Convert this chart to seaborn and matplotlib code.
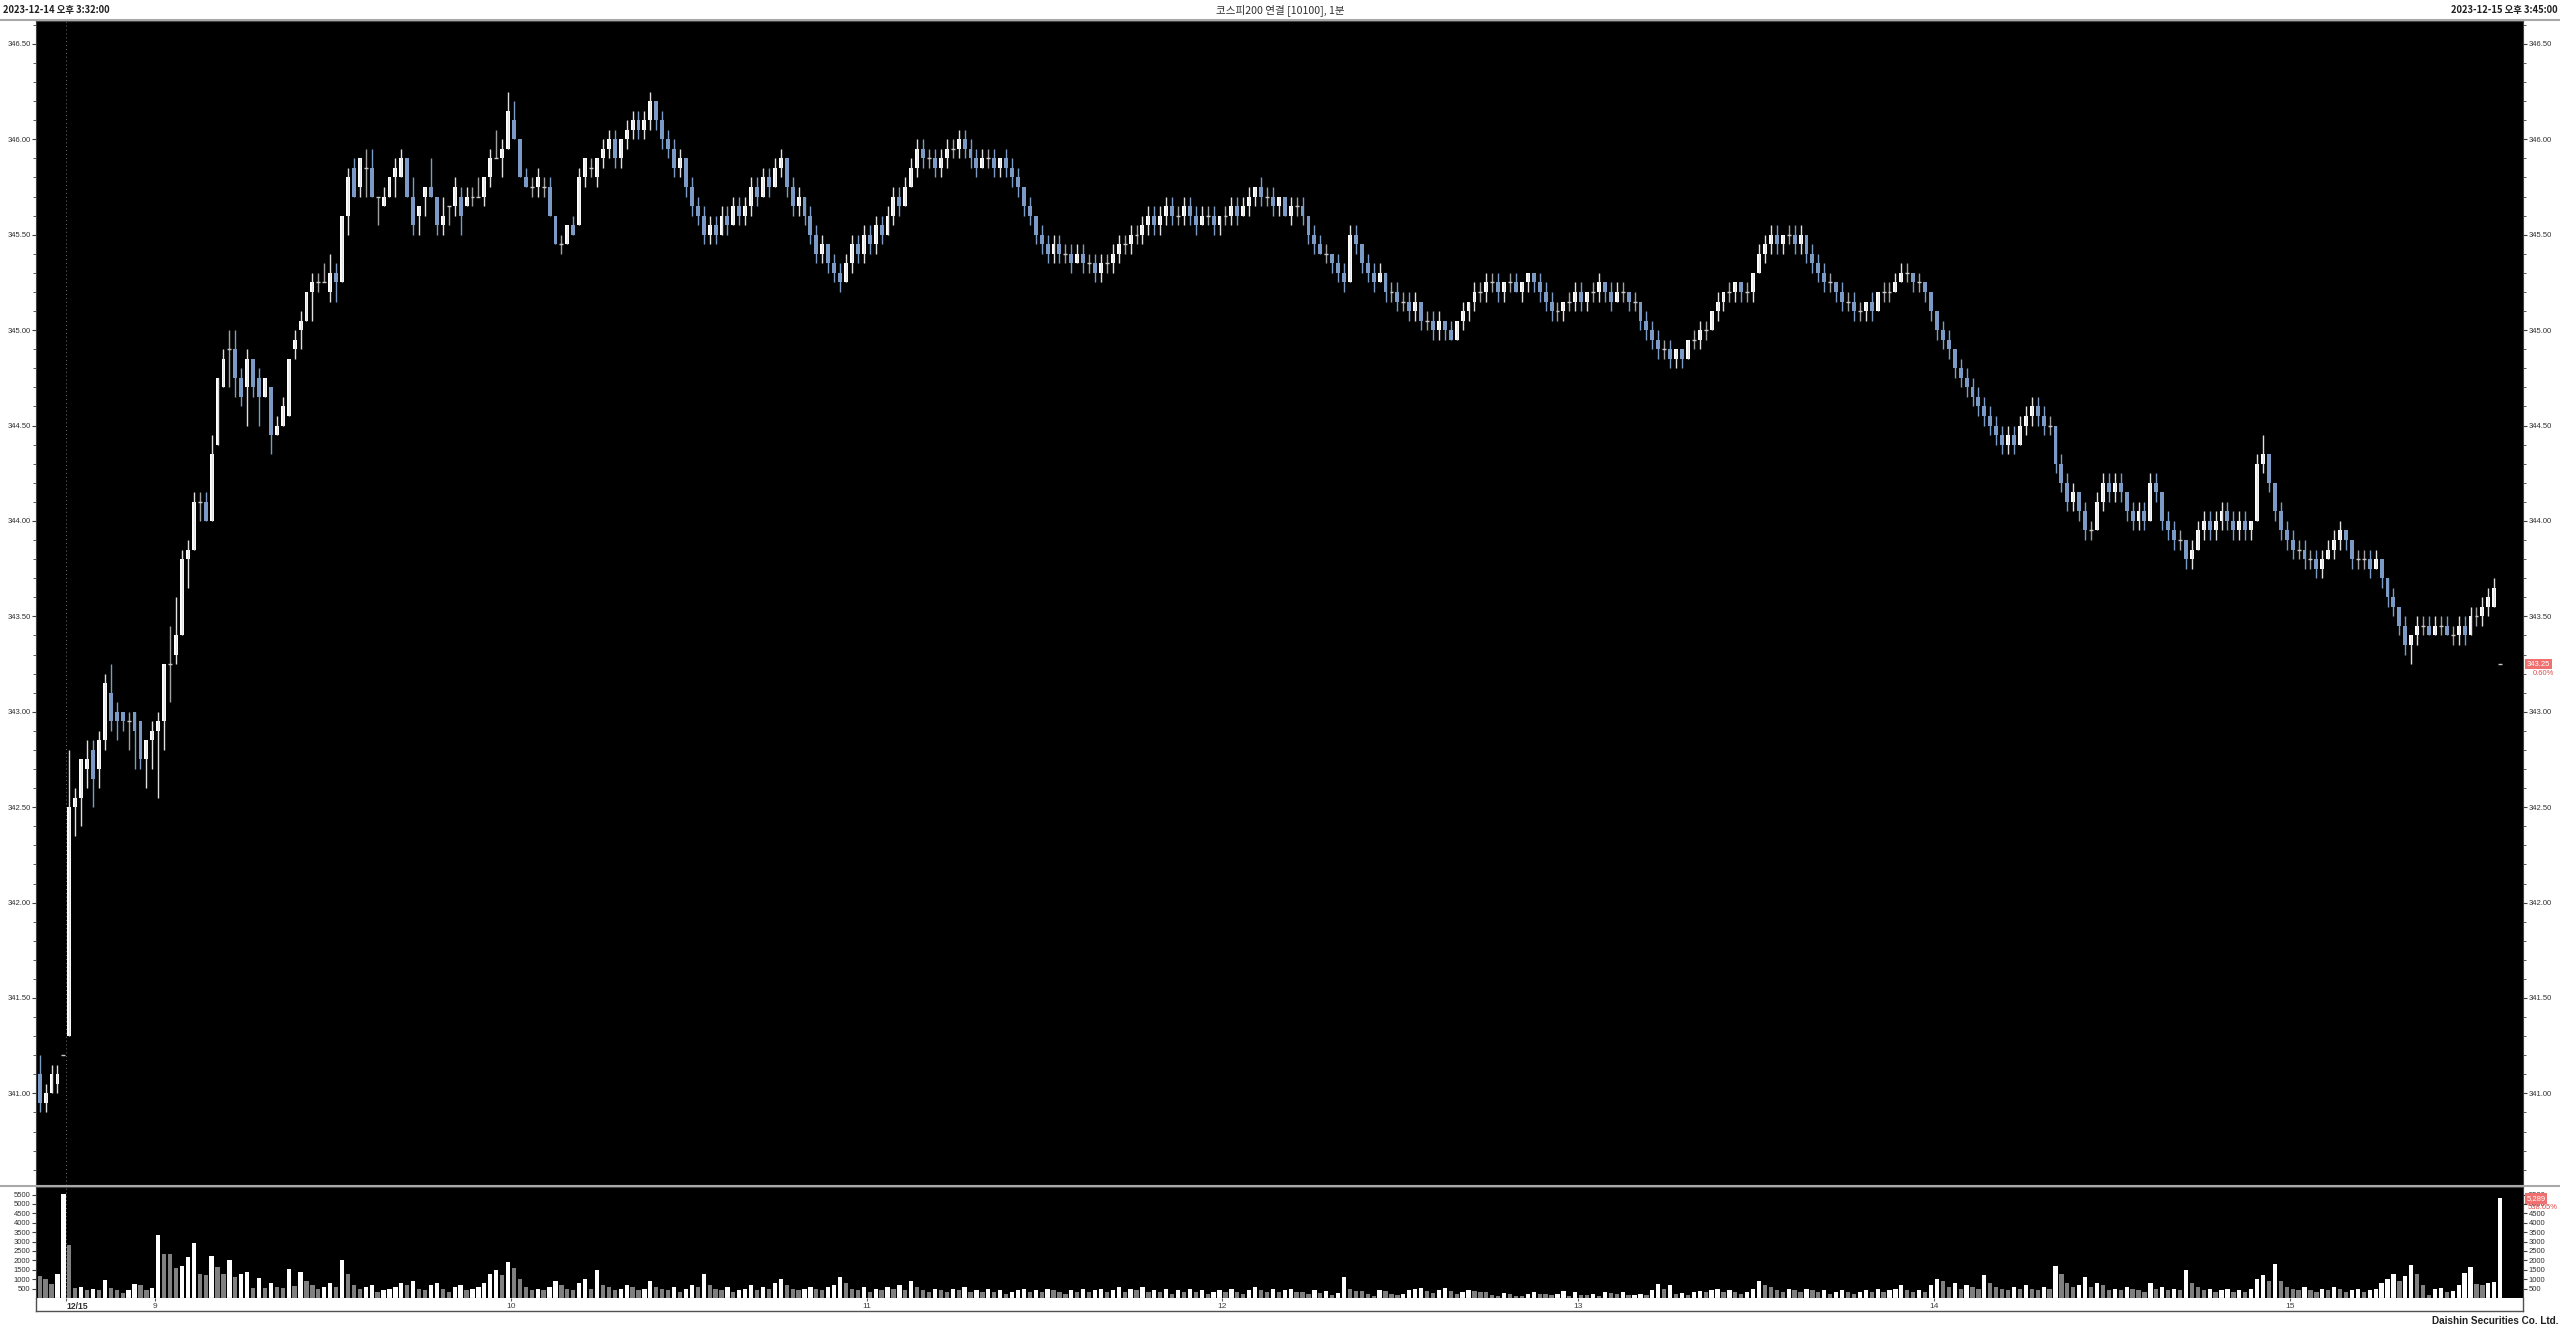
import numpy as np
import pandas as pd
import matplotlib
matplotlib.use("Agg")
from matplotlib import pyplot as plt
from matplotlib.lines import Line2D
from matplotlib.ticker import MultipleLocator, FixedLocator, FormatStrFormatter
import matplotlib.transforms as mtrans
import seaborn as sns

# 1-minute bars: 12/14 close (5 bars) then 12/15 from 08:45
opens = [
    341.10, 340.95, 341.00, 341.05, 341.20, 341.30, 342.50, 342.55, 342.70, 342.80,
    342.70, 342.85, 343.10, 343.00, 343.00, 342.95, 343.00, 342.95, 342.75, 342.85,
    342.90, 342.95, 343.25, 343.30, 343.40, 343.80, 343.85, 344.10, 344.10, 344.00,
    344.40, 344.70, 344.90, 344.90, 344.75, 344.70, 344.85, 344.75, 344.65, 344.70,
    344.45, 344.50, 344.55, 344.90, 345.00, 345.05, 345.20, 345.25, 345.25, 345.20,
    345.30, 345.25, 345.60, 345.85, 345.75, 345.85, 345.85, 345.70, 345.65, 345.70,
    345.80, 345.80, 345.90, 345.70, 345.60, 345.70, 345.75, 345.70, 345.55, 345.65,
    345.65, 345.70, 345.65, 345.70, 345.70, 345.70, 345.80, 345.90, 345.90, 345.95,
    346.10, 346.00, 345.80, 345.75, 345.75, 345.75, 345.75, 345.60, 345.45, 345.45,
    345.55, 345.55, 345.80, 345.85, 345.80, 345.90, 345.95, 346.00, 345.90, 346.00,
    346.05, 346.10, 346.05, 346.10, 346.20, 346.10, 346.00, 345.95, 345.85, 345.90,
    345.75, 345.65, 345.60, 345.50, 345.55, 345.50, 345.60, 345.55, 345.65, 345.60,
    345.65, 345.75, 345.70, 345.80, 345.75, 345.85, 345.90, 345.75, 345.65, 345.70,
    345.60, 345.50, 345.40, 345.45, 345.35, 345.30, 345.25, 345.35, 345.45, 345.40,
    345.50, 345.45, 345.55, 345.50, 345.60, 345.70, 345.65, 345.75, 345.85, 345.95,
    345.90, 345.90, 345.85, 345.90, 345.95, 345.95, 346.00, 345.95, 345.90, 345.85,
    345.90, 345.90, 345.85, 345.90, 345.85, 345.80, 345.75, 345.65, 345.60, 345.50,
    345.45, 345.40, 345.45, 345.40, 345.40, 345.35, 345.40, 345.35, 345.35, 345.30,
    345.35, 345.35, 345.40, 345.45, 345.45, 345.50, 345.50, 345.55, 345.60, 345.55,
    345.60, 345.65, 345.60, 345.60, 345.65, 345.60, 345.55, 345.60, 345.60, 345.55,
    345.60, 345.60, 345.65, 345.60, 345.65, 345.70, 345.75, 345.70, 345.70, 345.65,
    345.70, 345.60, 345.65, 345.65, 345.60, 345.50, 345.45, 345.40, 345.40, 345.35,
    345.30, 345.25, 345.50, 345.45, 345.35, 345.30, 345.25, 345.30, 345.20, 345.20,
    345.15, 345.15, 345.10, 345.15, 345.05, 345.05, 345.00, 345.05, 345.00, 344.95,
    345.05, 345.10, 345.15, 345.20, 345.20, 345.25, 345.25, 345.20, 345.25, 345.25,
    345.20, 345.25, 345.30, 345.25, 345.20, 345.15, 345.10, 345.10, 345.15, 345.15,
    345.20, 345.15, 345.20, 345.20, 345.25, 345.20, 345.15, 345.20, 345.20, 345.15,
    345.15, 345.05, 345.00, 344.95, 344.90, 344.90, 344.85, 344.90, 344.85, 344.95,
    344.95, 345.00, 345.00, 345.10, 345.15, 345.20, 345.20, 345.25, 345.20, 345.20,
    345.30, 345.40, 345.45, 345.50, 345.45, 345.50, 345.50, 345.45, 345.50, 345.40,
    345.35, 345.30, 345.25, 345.25, 345.20, 345.15, 345.15, 345.10, 345.10, 345.15,
    345.10, 345.20, 345.20, 345.20, 345.25, 345.30, 345.30, 345.25, 345.25, 345.20,
    345.10, 345.00, 344.95, 344.90, 344.80, 344.75, 344.70, 344.65, 344.60, 344.55,
    344.50, 344.45, 344.40, 344.45, 344.40, 344.50, 344.55, 344.60, 344.55, 344.50,
    344.50, 344.30, 344.20, 344.10, 344.15, 344.05, 343.95, 343.95, 344.10, 344.20,
    344.15, 344.20, 344.15, 344.05, 344.00, 344.05, 344.00, 344.20, 344.15, 344.00,
    343.95, 343.90, 343.90, 343.80, 343.85, 343.95, 344.00, 343.95, 344.00, 344.05,
    344.00, 343.95, 344.00, 343.95, 344.00, 344.30, 344.35, 344.20, 344.05, 343.95,
    343.90, 343.85, 343.85, 343.80, 343.80, 343.75, 343.80, 343.85, 343.90, 343.95,
    343.90, 343.80, 343.80, 343.80, 343.75, 343.80, 343.70, 343.60, 343.55, 343.45,
    343.35, 343.40, 343.45, 343.45, 343.40, 343.45, 343.45, 343.40, 343.40, 343.45,
    343.40, 343.50, 343.50, 343.55, 343.55, 343.25,
]
highs = [
    341.20, 341.05, 341.15, 341.15, 341.20, 342.80, 342.60, 342.75, 342.85, 342.85,
    342.90, 343.20, 343.25, 343.05, 343.00, 343.00, 343.00, 342.95, 342.85, 342.95,
    343.00, 343.25, 343.45, 343.60, 343.85, 343.90, 344.15, 344.15, 344.15, 344.45,
    344.75, 344.90, 345.00, 345.00, 344.80, 344.90, 344.85, 344.80, 344.75, 344.70,
    344.55, 344.65, 344.85, 345.00, 345.10, 345.20, 345.30, 345.30, 345.35, 345.40,
    345.35, 345.60, 345.85, 345.90, 345.90, 345.95, 345.95, 345.70, 345.75, 345.80,
    345.90, 345.95, 345.90, 345.80, 345.65, 345.75, 345.90, 345.70, 345.70, 345.65,
    345.80, 345.75, 345.75, 345.75, 345.80, 345.80, 345.95, 346.05, 346.00, 346.25,
    346.20, 346.00, 345.85, 345.80, 345.85, 345.80, 345.80, 345.60, 345.50, 345.55,
    345.60, 345.85, 345.90, 345.90, 345.90, 346.00, 346.05, 346.05, 346.00, 346.10,
    346.15, 346.15, 346.15, 346.25, 346.20, 346.15, 346.05, 346.00, 345.95, 345.90,
    345.80, 345.70, 345.65, 345.60, 345.60, 345.65, 345.65, 345.70, 345.70, 345.70,
    345.80, 345.80, 345.85, 345.85, 345.90, 345.95, 345.90, 345.80, 345.75, 345.70,
    345.65, 345.55, 345.50, 345.45, 345.40, 345.35, 345.40, 345.50, 345.50, 345.55,
    345.55, 345.60, 345.60, 345.65, 345.75, 345.75, 345.80, 345.90, 346.00, 346.00,
    345.95, 345.95, 345.95, 346.00, 346.00, 346.05, 346.05, 346.00, 345.95, 345.95,
    345.95, 345.95, 345.90, 345.95, 345.90, 345.85, 345.75, 345.70, 345.60, 345.55,
    345.50, 345.50, 345.50, 345.45, 345.45, 345.45, 345.45, 345.40, 345.40, 345.40,
    345.40, 345.45, 345.50, 345.50, 345.55, 345.55, 345.60, 345.65, 345.65, 345.65,
    345.70, 345.70, 345.65, 345.70, 345.70, 345.65, 345.65, 345.65, 345.65, 345.60,
    345.65, 345.70, 345.70, 345.70, 345.75, 345.75, 345.80, 345.75, 345.75, 345.70,
    345.70, 345.70, 345.70, 345.70, 345.60, 345.55, 345.50, 345.45, 345.40, 345.40,
    345.35, 345.55, 345.55, 345.45, 345.40, 345.35, 345.35, 345.30, 345.25, 345.25,
    345.20, 345.20, 345.20, 345.15, 345.10, 345.10, 345.10, 345.05, 345.05, 345.05,
    345.15, 345.15, 345.25, 345.25, 345.30, 345.30, 345.30, 345.25, 345.30, 345.30,
    345.25, 345.30, 345.30, 345.30, 345.25, 345.20, 345.15, 345.15, 345.20, 345.25,
    345.25, 345.20, 345.25, 345.30, 345.25, 345.25, 345.25, 345.25, 345.20, 345.20,
    345.15, 345.10, 345.05, 345.00, 344.95, 344.95, 344.90, 344.90, 344.95, 345.00,
    345.05, 345.05, 345.10, 345.20, 345.20, 345.25, 345.25, 345.25, 345.25, 345.30,
    345.45, 345.50, 345.55, 345.55, 345.50, 345.55, 345.55, 345.55, 345.50, 345.45,
    345.40, 345.35, 345.30, 345.25, 345.25, 345.20, 345.20, 345.15, 345.15, 345.20,
    345.20, 345.25, 345.25, 345.30, 345.35, 345.35, 345.30, 345.30, 345.25, 345.20,
    345.10, 345.05, 345.00, 344.90, 344.85, 344.80, 344.75, 344.70, 344.65, 344.60,
    344.55, 344.50, 344.50, 344.50, 344.55, 344.60, 344.65, 344.65, 344.60, 344.55,
    344.50, 344.35, 344.25, 344.20, 344.15, 344.10, 344.00, 344.15, 344.25, 344.25,
    344.25, 344.25, 344.15, 344.10, 344.10, 344.10, 344.25, 344.25, 344.15, 344.05,
    344.00, 343.95, 343.90, 343.90, 344.00, 344.05, 344.05, 344.05, 344.10, 344.10,
    344.05, 344.05, 344.05, 344.00, 344.35, 344.45, 344.35, 344.20, 344.10, 344.00,
    343.95, 343.90, 343.90, 343.85, 343.85, 343.85, 343.90, 343.95, 344.00, 343.95,
    343.90, 343.85, 343.85, 343.85, 343.85, 343.80, 343.70, 343.65, 343.55, 343.50,
    343.40, 343.50, 343.50, 343.50, 343.50, 343.50, 343.50, 343.45, 343.50, 343.50,
    343.55, 343.55, 343.60, 343.65, 343.70, 343.25,
]
lows = [
    340.90, 340.90, 341.00, 341.00, 341.20, 341.30, 342.35, 342.40, 342.60, 342.50,
    342.60, 342.80, 342.90, 342.85, 342.90, 342.80, 342.70, 342.70, 342.60, 342.70,
    342.55, 342.80, 343.05, 343.25, 343.40, 343.65, 343.85, 344.00, 344.00, 344.00,
    344.40, 344.70, 344.70, 344.65, 344.60, 344.50, 344.65, 344.50, 344.65, 344.35,
    344.45, 344.50, 344.55, 344.85, 344.90, 345.05, 345.05, 345.20, 345.25, 345.15,
    345.15, 345.25, 345.50, 345.70, 345.70, 345.70, 345.70, 345.55, 345.65, 345.70,
    345.70, 345.80, 345.70, 345.50, 345.50, 345.60, 345.70, 345.50, 345.50, 345.55,
    345.60, 345.50, 345.65, 345.65, 345.70, 345.65, 345.75, 345.90, 345.80, 345.95,
    346.00, 345.80, 345.75, 345.70, 345.70, 345.70, 345.60, 345.45, 345.40, 345.45,
    345.50, 345.55, 345.75, 345.80, 345.75, 345.85, 345.90, 345.85, 345.85, 345.95,
    346.00, 346.00, 346.00, 346.05, 346.05, 345.95, 345.90, 345.80, 345.80, 345.70,
    345.60, 345.55, 345.45, 345.45, 345.45, 345.50, 345.50, 345.55, 345.55, 345.55,
    345.60, 345.65, 345.70, 345.70, 345.75, 345.80, 345.70, 345.60, 345.60, 345.55,
    345.45, 345.35, 345.35, 345.30, 345.25, 345.20, 345.25, 345.30, 345.35, 345.35,
    345.40, 345.40, 345.45, 345.50, 345.55, 345.60, 345.65, 345.75, 345.80, 345.85,
    345.85, 345.80, 345.80, 345.85, 345.90, 345.90, 345.90, 345.85, 345.80, 345.85,
    345.85, 345.80, 345.80, 345.80, 345.75, 345.70, 345.60, 345.55, 345.45, 345.40,
    345.35, 345.35, 345.35, 345.35, 345.30, 345.35, 345.30, 345.30, 345.25, 345.25,
    345.30, 345.30, 345.35, 345.40, 345.40, 345.45, 345.45, 345.50, 345.50, 345.50,
    345.55, 345.55, 345.55, 345.55, 345.55, 345.50, 345.55, 345.55, 345.50, 345.50,
    345.55, 345.55, 345.55, 345.60, 345.60, 345.65, 345.65, 345.65, 345.60, 345.60,
    345.60, 345.55, 345.60, 345.55, 345.45, 345.40, 345.40, 345.35, 345.30, 345.25,
    345.20, 345.25, 345.40, 345.30, 345.25, 345.20, 345.25, 345.15, 345.15, 345.10,
    345.10, 345.05, 345.05, 345.00, 345.00, 344.95, 344.95, 344.95, 344.95, 344.95,
    345.00, 345.05, 345.10, 345.15, 345.15, 345.20, 345.15, 345.15, 345.20, 345.20,
    345.15, 345.20, 345.20, 345.15, 345.10, 345.05, 345.05, 345.05, 345.10, 345.10,
    345.10, 345.10, 345.15, 345.15, 345.15, 345.10, 345.15, 345.15, 345.10, 345.10,
    345.00, 344.95, 344.90, 344.85, 344.85, 344.80, 344.80, 344.80, 344.85, 344.90,
    344.90, 344.95, 345.00, 345.05, 345.10, 345.15, 345.15, 345.15, 345.15, 345.15,
    345.30, 345.35, 345.40, 345.40, 345.40, 345.45, 345.40, 345.40, 345.35, 345.30,
    345.25, 345.20, 345.20, 345.15, 345.10, 345.10, 345.05, 345.05, 345.05, 345.05,
    345.10, 345.15, 345.15, 345.20, 345.25, 345.25, 345.20, 345.20, 345.15, 345.05,
    344.95, 344.90, 344.85, 344.75, 344.70, 344.65, 344.60, 344.55, 344.50, 344.45,
    344.40, 344.35, 344.35, 344.35, 344.40, 344.45, 344.50, 344.50, 344.45, 344.45,
    344.25, 344.15, 344.05, 344.05, 344.00, 343.90, 343.90, 343.95, 344.05, 344.10,
    344.10, 344.10, 344.00, 343.95, 343.95, 343.95, 344.00, 344.10, 343.95, 343.90,
    343.85, 343.85, 343.75, 343.75, 343.85, 343.90, 343.90, 343.90, 343.95, 343.95,
    343.90, 343.90, 343.90, 343.90, 344.00, 344.25, 344.15, 344.00, 343.90, 343.85,
    343.80, 343.80, 343.75, 343.75, 343.70, 343.70, 343.80, 343.80, 343.85, 343.85,
    343.75, 343.75, 343.75, 343.70, 343.75, 343.65, 343.55, 343.50, 343.40, 343.30,
    343.25, 343.35, 343.40, 343.40, 343.40, 343.40, 343.40, 343.35, 343.35, 343.35,
    343.40, 343.45, 343.45, 343.50, 343.55, 343.25,
]
closes = [
    340.95, 341.00, 341.10, 341.10, 341.20, 342.50, 342.55, 342.75, 342.75, 342.65,
    342.85, 343.15, 342.95, 342.95, 342.95, 342.95, 342.90, 342.75, 342.85, 342.90,
    342.95, 343.25, 343.25, 343.40, 343.80, 343.85, 344.10, 344.10, 344.00, 344.35,
    344.75, 344.85, 344.90, 344.75, 344.65, 344.85, 344.70, 344.65, 344.75, 344.45,
    344.50, 344.60, 344.85, 344.95, 345.05, 345.20, 345.25, 345.25, 345.25, 345.30,
    345.25, 345.60, 345.80, 345.70, 345.90, 345.85, 345.70, 345.70, 345.70, 345.80,
    345.85, 345.90, 345.70, 345.55, 345.65, 345.75, 345.70, 345.55, 345.60, 345.65,
    345.75, 345.60, 345.70, 345.70, 345.70, 345.80, 345.90, 345.90, 345.95, 346.15,
    346.00, 345.80, 345.75, 345.75, 345.80, 345.75, 345.60, 345.45, 345.45, 345.55,
    345.50, 345.80, 345.90, 345.85, 345.90, 345.95, 346.00, 345.90, 346.00, 346.05,
    346.10, 346.05, 346.10, 346.20, 346.10, 346.00, 345.95, 345.85, 345.90, 345.75,
    345.65, 345.60, 345.50, 345.55, 345.50, 345.60, 345.55, 345.65, 345.60, 345.65,
    345.75, 345.70, 345.80, 345.75, 345.85, 345.90, 345.75, 345.65, 345.70, 345.60,
    345.50, 345.40, 345.45, 345.35, 345.30, 345.25, 345.35, 345.45, 345.40, 345.50,
    345.45, 345.55, 345.50, 345.60, 345.70, 345.65, 345.75, 345.85, 345.95, 345.90,
    345.90, 345.85, 345.90, 345.95, 345.95, 346.00, 345.95, 345.90, 345.85, 345.90,
    345.90, 345.85, 345.90, 345.85, 345.80, 345.75, 345.65, 345.60, 345.50, 345.45,
    345.40, 345.45, 345.40, 345.40, 345.35, 345.40, 345.35, 345.35, 345.30, 345.35,
    345.35, 345.40, 345.45, 345.45, 345.50, 345.50, 345.55, 345.60, 345.55, 345.60,
    345.65, 345.60, 345.60, 345.65, 345.60, 345.55, 345.60, 345.60, 345.55, 345.60,
    345.60, 345.65, 345.60, 345.65, 345.70, 345.75, 345.70, 345.70, 345.65, 345.70,
    345.60, 345.65, 345.65, 345.60, 345.50, 345.45, 345.40, 345.40, 345.35, 345.30,
    345.25, 345.50, 345.45, 345.35, 345.30, 345.25, 345.30, 345.20, 345.20, 345.15,
    345.15, 345.10, 345.15, 345.05, 345.05, 345.00, 345.05, 345.00, 344.95, 345.05,
    345.10, 345.15, 345.20, 345.20, 345.25, 345.25, 345.20, 345.25, 345.25, 345.20,
    345.25, 345.30, 345.25, 345.20, 345.15, 345.10, 345.10, 345.15, 345.15, 345.20,
    345.15, 345.20, 345.20, 345.25, 345.20, 345.15, 345.20, 345.20, 345.15, 345.15,
    345.05, 345.00, 344.95, 344.90, 344.90, 344.85, 344.90, 344.85, 344.95, 344.95,
    345.00, 345.00, 345.10, 345.15, 345.20, 345.20, 345.25, 345.20, 345.20, 345.30,
    345.40, 345.45, 345.50, 345.45, 345.50, 345.50, 345.45, 345.50, 345.40, 345.35,
    345.30, 345.25, 345.25, 345.20, 345.15, 345.15, 345.10, 345.10, 345.15, 345.10,
    345.20, 345.20, 345.20, 345.25, 345.30, 345.30, 345.25, 345.25, 345.20, 345.10,
    345.00, 344.95, 344.90, 344.80, 344.75, 344.70, 344.65, 344.60, 344.55, 344.50,
    344.45, 344.40, 344.45, 344.40, 344.50, 344.55, 344.60, 344.55, 344.50, 344.50,
    344.30, 344.20, 344.10, 344.15, 344.05, 343.95, 343.95, 344.10, 344.20, 344.15,
    344.20, 344.15, 344.05, 344.00, 344.05, 344.00, 344.20, 344.15, 344.00, 343.95,
    343.90, 343.90, 343.80, 343.85, 343.95, 344.00, 343.95, 344.00, 344.05, 344.00,
    343.95, 344.00, 343.95, 344.00, 344.30, 344.35, 344.20, 344.05, 343.95, 343.90,
    343.85, 343.85, 343.80, 343.80, 343.75, 343.80, 343.85, 343.90, 343.95, 343.90,
    343.80, 343.80, 343.80, 343.75, 343.80, 343.70, 343.60, 343.55, 343.45, 343.35,
    343.40, 343.45, 343.45, 343.40, 343.45, 343.45, 343.40, 343.40, 343.45, 343.40,
    343.50, 343.50, 343.55, 343.60, 343.65, 343.25,
]
volumes = [
    1150, 1000, 750, 1250, 5550, 2800, 550, 600, 450, 500,
    400, 950, 550, 450, 250, 400, 750, 700, 450, 550,
    3350, 2350, 2350, 1600, 1700, 2200, 2900, 1300, 1200, 2250,
    1650, 1300, 2000, 1100, 1250, 1400, 550, 1050, 550, 800,
    600, 550, 1550, 650, 1400, 900, 700, 500, 600, 800,
    600, 2000, 1300, 700, 500, 600, 700, 300, 400, 500,
    600, 800, 700, 900, 500, 400, 700, 800, 500, 300,
    600, 700, 400, 500, 600, 800, 1300, 1500, 1200, 1900,
    1600, 1000, 600, 400, 500, 400, 600, 900, 700, 500,
    400, 800, 1000, 500, 1500, 700, 600, 400, 500, 700,
    600, 400, 500, 900, 600, 500, 400, 600, 300, 500,
    700, 600, 1300, 700, 500, 400, 600, 300, 400, 500,
    700, 400, 600, 500, 800, 1000, 700, 500, 400, 500,
    600, 500, 400, 600, 700, 1100, 800, 500, 400, 600,
    300, 500, 400, 600, 500, 700, 400, 900, 600, 400,
    300, 500, 400, 300, 500, 400, 600, 300, 400, 300,
    500, 300, 400, 200, 300, 400, 500, 300, 400, 300,
    500, 400, 300, 200, 400, 300, 500, 300, 400, 500,
    300, 400, 600, 300, 500, 400, 600, 300, 400, 300,
    500, 200, 400, 300, 500, 300, 400, 200, 300, 400,
    300, 500, 300, 200, 400, 600, 400, 300, 500, 300,
    400, 500, 300, 300, 210, 400, 270, 370, 180, 270,
    1120, 480, 390, 390, 230, 120, 410, 370, 210, 180,
    230, 410, 480, 550, 370, 280, 440, 550, 370, 230,
    330, 440, 370, 300, 300, 180, 120, 270, 230, 90,
    90, 210, 300, 210, 210, 180, 210, 370, 120, 300,
    180, 180, 230, 120, 330, 270, 230, 300, 140, 180,
    230, 140, 440, 740, 500, 670, 230, 270, 180, 330,
    370, 300, 400, 500, 300, 400, 300, 200, 300, 500,
    900, 700, 600, 400, 300, 500, 400, 300, 500, 400,
    300, 400, 200, 300, 400, 300, 200, 300, 400, 300,
    500, 300, 400, 500, 700, 400, 300, 400, 300, 700,
    1000, 900, 600, 800, 500, 700, 600, 500, 1200, 800,
    600, 500, 400, 600, 500, 700, 500, 400, 600, 500,
    1700, 1300, 800, 600, 700, 1100, 600, 800, 700, 400,
    500, 400, 600, 500, 400, 300, 800, 500, 600, 400,
    500, 400, 1500, 800, 600, 400, 500, 300, 400, 500,
    300, 400, 300, 500, 1000, 1200, 900, 1800, 900, 600,
    500, 400, 600, 400, 300, 500, 400, 600, 500, 300,
    400, 500, 300, 400, 500, 800, 1000, 1300, 900, 1150,
    1770, 1290, 670, 180, 460, 530, 300, 350, 670, 1340,
    1630, 760, 670, 800, 830, 5289,
]
hour_labels = ["9", "10", "11", "12", "13", "14", "15"]
day_label = "12/15"
day_start = 5        # first bar of 12/15
first_hour_bar = 20  # 09:00 bar
header_left = "2023-12-14 오후 3:32:00"
header_mid = "코스피200 연결 [10100], 1분"
header_right = "2023-12-15 오후 3:45:00"
footer = "Daishin Securities Co. Ltd."
price_tag, price_pct = "343.25", "0.60%"
vol_tag, vol_pct = "5,289", "538.05%"

n = len(closes)
assert len(opens) == len(highs) == len(lows) == n == len(volumes)

df = pd.DataFrame({"o": opens, "h": highs, "l": lows, "c": closes, "v": volumes})
df["i"] = np.arange(n)
up = df.c > df.o
down = df.c < df.o
flat = df.c == df.o
df["vcol"] = np.where(df.v.diff() > 0, "up", "down")

sns.set_style("white")
plt.rcParams["font.family"] = ["Liberation Sans Narrow", "Liberation Sans", "DejaVu Sans"]
kr = ["Noto Sans CJK KR", "DejaVu Sans"]

W, H = 2560, 1328
fig = plt.figure(figsize=(W / 100, H / 100), dpi=100)
fig.patch.set_facecolor("white")


def box(x0, y0, x1, y1):
    return [x0 / W, 1 - y1 / H, (x1 - x0) / W, (y1 - y0) / H]


ax = fig.add_axes(box(36, 21, 2523, 1185))
axv = fig.add_axes(box(36, 1187, 2523, 1298))
axt = fig.add_axes(box(36, 1298, 2523, 1311))

BLUE = "#7b9bc6"
xlim = (-0.62, 418.85)

# candles
ax.set_facecolor("black")
wick_col = np.where(down, BLUE, np.where(up, "#e0e0e0", "#a0a0a0"))
ax.vlines(df.i, df.l, df.h, colors=wick_col, lw=1.0)
ax.bar(df.i[up], (df.c - df.o)[up], bottom=df.o[up], width=0.66, color="white", lw=0)
ax.bar(df.i[down], (df.o - df.c)[down], bottom=df.c[down], width=0.66, color=BLUE, lw=0)
ax.hlines(df.c[flat], df.i[flat] - 0.33, df.i[flat] + 0.33, colors="#c8c8c8", lw=1.0)
ax.axvline(day_start - 0.5, color="#707070", lw=0.7, ls=(0, (1, 3)))
ax.set_xlim(*xlim)
ax.set_ylim(340.52, 346.62)

# volume
axv.set_facecolor("black")
sns.barplot(data=df, x="i", y="v", hue="vcol", palette={"up": "#ffffff", "down": "#808080"},
            native_scale=True, dodge=False, width=0.72, errorbar=None, legend=False,
            saturation=1, linewidth=0, ax=axv)
axv.axvline(day_start - 0.5, color="#707070", lw=0.7, ls=(0, (1, 3)))
axv.set_xlim(*xlim)
axv.set_ylim(0, 5900)
axv.set_xlabel("")
axv.set_ylabel("")

for a in (ax, axv):
    a.tick_params(axis="x", bottom=False, labelbottom=False)
    a.tick_params(axis="y", which="both", left=True, right=True, labelleft=True, labelright=True,
                  direction="out", color="#404040", labelcolor="#303030", labelsize=5.5, pad=1)
    a.tick_params(axis="y", which="major", length=3)
    a.tick_params(axis="y", which="minor", length=2)
    for s in a.spines.values():
        s.set_color("#404040")
        s.set_linewidth(0.8)
    a.grid(False)

ax.yaxis.set_major_locator(MultipleLocator(0.5))
ax.yaxis.set_minor_locator(MultipleLocator(0.1))
ax.yaxis.set_major_formatter(FormatStrFormatter("%.2f"))
axv.yaxis.set_major_locator(FixedLocator(list(range(500, 6000, 500))))

# time strip
axt.set_xlim(*xlim)
axt.set_ylim(0, 1)
axt.set_xticks([])
axt.set_yticks([])
axt.spines["top"].set_visible(False)
for side in ("left", "bottom", "right"):
    axt.spines[side].set_color("#505050")
    axt.spines[side].set_linewidth(1.0)
hour_pos = [first_hour_bar - 0.5 + 60 * k for k in range(len(hour_labels))]
for p, lab in zip(hour_pos, hour_labels):
    axt.vlines(p, 0.8, 1.0, color="#606060", lw=0.8)
    axt.text(p, 0.38, lab, ha="center", va="center", fontsize=6, color="#404040")
axt.vlines(day_start - 0.5, 0.8, 1.0, color="#606060", lw=0.8)
axt.text(day_start - 0.4, 0.38, day_label, ha="left", va="center", fontsize=6.2,
         fontweight="bold", color="#303030")

# separator lines across the whole window
for yy in (20, 1186):
    fig.add_artist(Line2D([0, 1], [1 - yy / H] * 2, color="#a8a8a8", lw=1.5, transform=fig.transFigure))

# headers / footer
fig.text(3 / W, 1 - 10 / H, header_left, ha="left", va="center", fontsize=6.8,
         fontweight="bold", family=kr, color="#202020")
fig.text(0.5, 1 - 10 / H, header_mid, ha="center", va="center", fontsize=7.6,
         family=kr, color="#303030")
fig.text(1 - 2 / W, 1 - 10 / H, header_right, ha="right", va="center", fontsize=6.8,
         fontweight="bold", family=kr, color="#202020")
fig.text(1 - 2 / W, 1 - 1321 / H, footer, ha="right", va="center", fontsize=7.2,
         fontweight="bold", color="#202020")

# current value tags on the right
tr = mtrans.blended_transform_factory(ax.transAxes, ax.transData)
ax.text(1.0015, df.c.iloc[-1], price_tag, transform=tr, ha="left", va="center", fontsize=5.5,
        color="white", bbox=dict(boxstyle="square,pad=0.2", fc="#f07070", ec="none"), clip_on=False)
ax.annotate(price_pct, (1.004, df.c.iloc[-1]), xycoords=tr, xytext=(0, -6.5), textcoords="offset points",
            ha="left", va="center", fontsize=5.5, color="#e04848", annotation_clip=False)
trv = mtrans.blended_transform_factory(axv.transAxes, axv.transData)
axv.text(1.0015, df.v.iloc[-1], vol_tag, transform=trv, ha="left", va="center", fontsize=5.5,
         color="white", bbox=dict(boxstyle="square,pad=0.2", fc="#f07070", ec="none"), clip_on=False)
axv.annotate(vol_pct, (1.002, df.v.iloc[-1]), xycoords=trv, xytext=(0, -6.5), textcoords="offset points",
             ha="left", va="center", fontsize=5.5, color="#e04848", annotation_clip=False)

fig.savefig("out.png", dpi=100, facecolor="white")
